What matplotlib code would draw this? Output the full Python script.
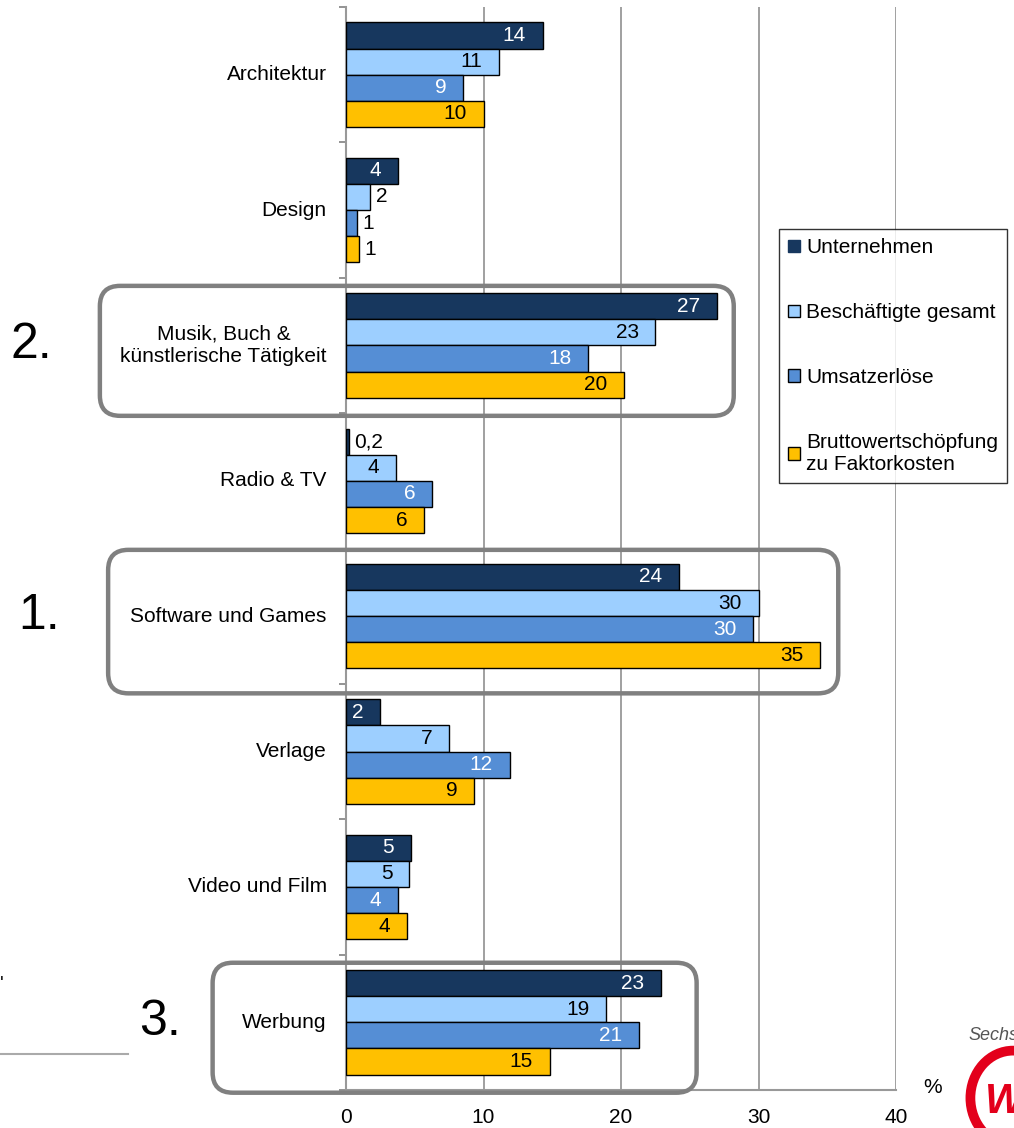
import numpy as np
import matplotlib.pyplot as plt
from matplotlib.patches import FancyBboxPatch, Patch, Circle
from matplotlib.lines import Line2D

plt.rcParams['font.family'] = ['Liberation Sans', 'DejaVu Sans']

# data (percent shares per branch)
categories = ["Architektur", "Design", "Musik, Buch &\nkünstlerische Tätigkeit", "Radio & TV",
              "Software und Games", "Verlage", "Video und Film", "Werbung"]
series_names = ["Unternehmen", "Beschäftigte gesamt", "Umsatzerlöse",
                "Bruttowertschöpfung\nzu Faktorkosten"]
unternehmen = [14.3, 3.8, 27.0, 0.2, 24.2, 2.5, 4.7, 22.9]
beschaeftigte = [11.1, 1.75, 22.5, 3.6, 30.0, 7.5, 4.6, 18.9]
umsatz = [8.5, 0.8, 17.6, 6.25, 29.6, 11.9, 3.8, 21.3]
bws = [10.0, 0.95, 20.2, 5.7, 34.5, 9.3, 4.4, 14.8]
unternehmen_lbl = ["14", "4", "27", "0,2", "24", "2", "5", "23"]
beschaeftigte_lbl = ["11", "2", "23", "4", "30", "7", "5", "19"]
umsatz_lbl = ["9", "1", "18", "6", "30", "12", "4", "21"]
bws_lbl = ["10", "1", "20", "6", "35", "9", "4", "15"]
xticks = [0, 10, 20, 30, 40]
# ranking: (category index, label)
ranks = [(4, "1."), (2, "2."), (7, "3.")]

colors = ["#17375E", "#9DCFFF", "#558ED5", "#FFC000"]
txt_colors = ["white", "black", "white", "black"]
fs = 15

fig = plt.figure(figsize=(10.14, 11.28), dpi=100)
ax = fig.add_axes([346/1014, 1-1090/1128, 550/1014, 1083/1128])

y = np.arange(len(categories))
h = 0.193
values = [unternehmen, beschaeftigte, umsatz, bws]
labels = [unternehmen_lbl, beschaeftigte_lbl, umsatz_lbl, bws_lbl]
for k, (vals, lbls) in enumerate(zip(values, labels)):
    pos = y + (k - 1.5) * h
    ax.barh(pos, vals, height=h, color=colors[k], edgecolor="black", linewidth=1, zorder=3)
    for p, v, s in zip(pos, vals, lbls):
        if v < 2:
            ax.annotate(s, (v, p), xytext=(4, 0), textcoords="offset points",
                        ha="left", va="center", fontsize=fs, color="black", zorder=4)
        else:
            ax.annotate(s, (v, p), xytext=(-12, 0), textcoords="offset points",
                        ha="right", va="center", fontsize=fs, color=txt_colors[k], zorder=4)

ax.set_xlim(0, 40)
ax.set_ylim(7.5, -0.5)
ax.set_xticks(xticks)
ax.tick_params(axis="x", length=0, labelsize=fs, pad=13)
ax.set_yticks(y)
ax.set_yticklabels([])
ax.tick_params(axis="y", which="major", length=0)
ax.set_yticks(np.arange(-0.5, 8, 1), minor=True)
ax.tick_params(axis="y", which="minor", length=5, width=1.2, color="#808080", direction="out")
ax.grid(axis="x", color="#999999", linewidth=1.3, zorder=0)
for sp in ["top", "right"]:
    ax.spines[sp].set_visible(False)
for sp in ["left", "bottom"]:
    ax.spines[sp].set_color("#999999")
    ax.spines[sp].set_linewidth(1.5)

for i, c in enumerate(categories):
    ax.text(-1.4, i, c, ha="right", va="center", fontsize=fs, multialignment="center")

ax.text(1.05, 0.002, "%", transform=ax.transAxes, fontsize=fs, ha="left", va="center")

# rounded highlight boxes around the top 3
box_ext = {2: (-17.9, 28.2, 0.48), 4: (-17.3, 35.8, 0.53), 7: (-9.7, 25.5, 0.48)}
rank_x = {2: 0.010, 4: 0.018, 7: 0.137}
to_fig = ax.transData + fig.transFigure.inverted()
for i, s in ranks:
    x0, x1, hh = box_ext[i]
    (fx0, fy0), (fx1, fy1) = to_fig.transform([(x0, i + hh + 0.04), (x1, i - hh + 0.04)])
    fig.patches.append(FancyBboxPatch((fx0, fy0), fx1 - fx0, fy1 - fy0,
                                      boxstyle="round,pad=0,rounding_size=0.02",
                                      mutation_aspect=1014/1128, transform=fig.transFigure,
                                      facecolor="none", edgecolor="#808080", linewidth=3.2,
                                      zorder=5))
    fy = to_fig.transform([(0, i)])[0][1]
    fig.text(rank_x[i], fy, s, fontsize=36, ha="left", va="center")

# legend
handles = [Patch(facecolor=c, edgecolor="black" if k else c, linewidth=1) for k, c in enumerate(colors)]
leg = fig.legend(handles, series_names, loc="upper left", bbox_to_anchor=(779/1014, 1-229/1128),
                 fontsize=fs, frameon=True, fancybox=False, edgecolor="black",
                 handlelength=0.55, handleheight=0.55, handletextpad=0.3, labelspacing=2.2,
                 borderpad=0.45, borderaxespad=0)
leg.get_frame().set_linewidth(1)

# page fragments around the chart
fig.add_artist(Line2D([0, 128/1014], [1-1054/1128]*2, color="#aaaaaa", linewidth=1.5))
fig.text(0.0, 1-985/1128, "'", fontsize=14, ha="left", va="center")
fig.text(968/1014, 1-1036/1128, "Sechs", fontsize=13, style="italic", color="#555555",
         ha="left", va="center")
fig.patches.append(Circle((1013/1014, 1-1098/1128), 0.042, transform=fig.transFigure,
                          facecolor="none", edgecolor="#E3001B", linewidth=7))
fig.text(985/1014, 1-1102/1128, "W", fontsize=30, weight="bold", style="italic",
         color="#E3001B", ha="left", va="center")

fig.savefig("out.png", dpi=100)
